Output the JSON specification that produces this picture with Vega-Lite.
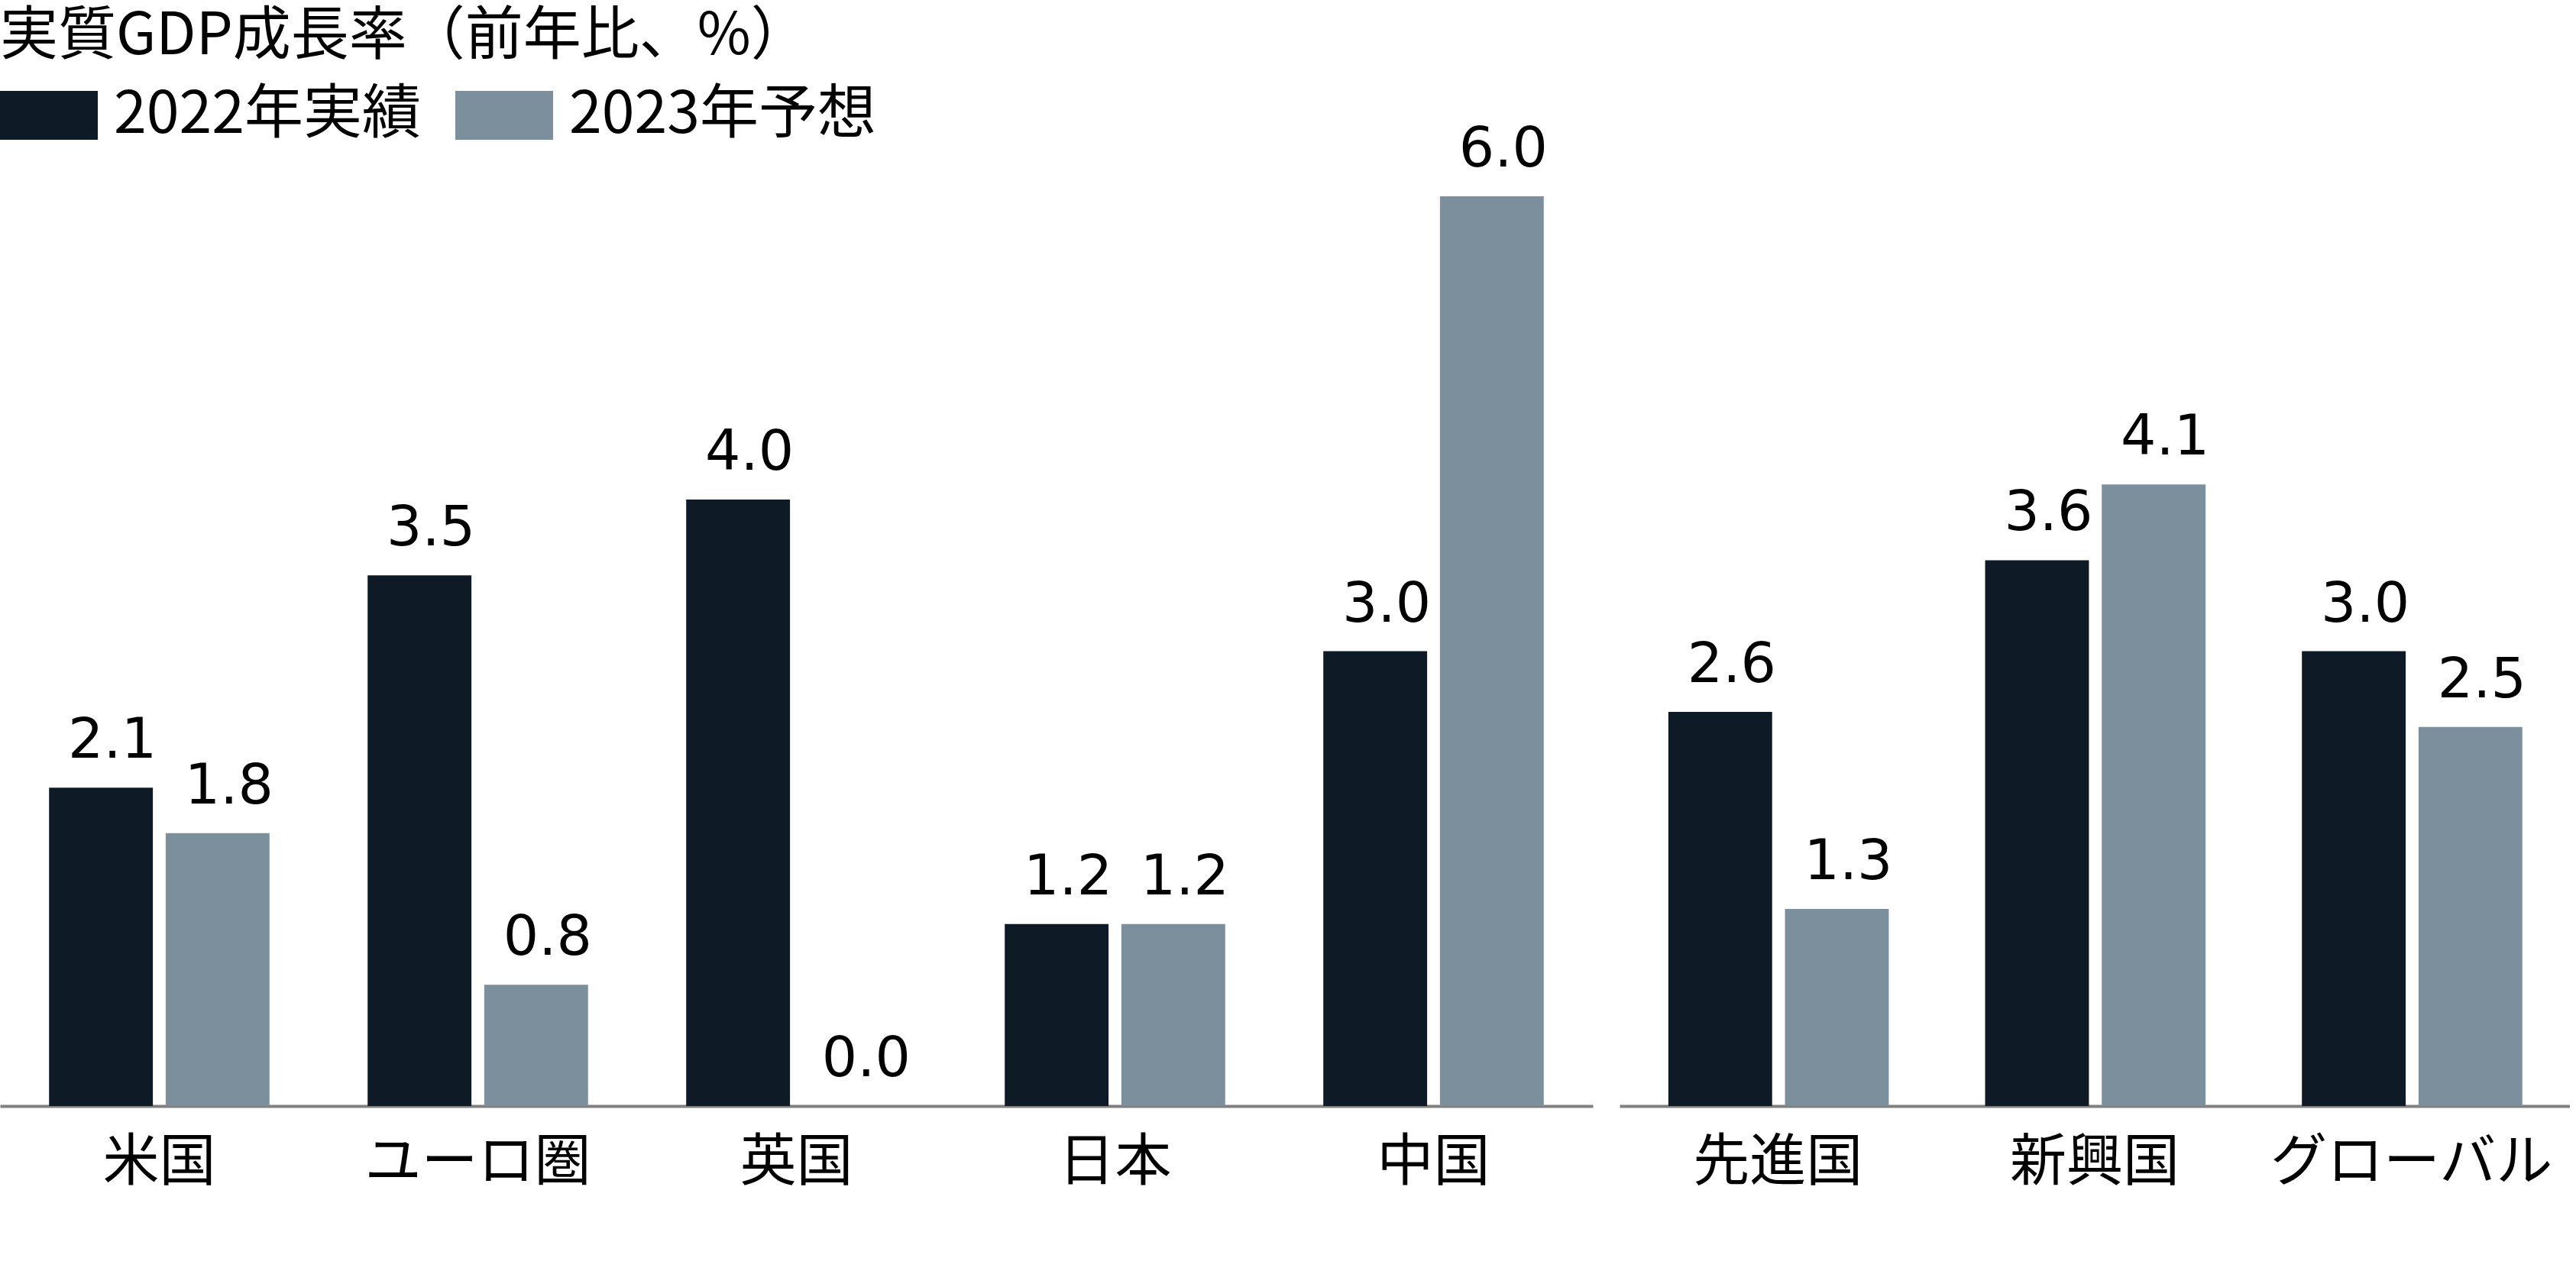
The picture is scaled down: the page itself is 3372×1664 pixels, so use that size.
{
  "$schema": "https://vega.github.io/schema/vega-lite/v6.json",
  "background": "white",
  "padding": {"left": 0, "top": 10, "right": 0, "bottom": 40},
  "title": {
    "text": "実質GDP成長率（前年比、%）",
    "anchor": "start",
    "font": "Noto Sans CJK JP",
    "fontSize": 76,
    "fontWeight": "normal",
    "color": "black",
    "offset": 0
  },
  "data": {
    "values": [
      {"panel": "a", "region": "米国", "year": "2022年実績", "value": 2.1},
      {"panel": "a", "region": "米国", "year": "2023年予想", "value": 1.8},
      {"panel": "a", "region": "ユーロ圏", "year": "2022年実績", "value": 3.5},
      {"panel": "a", "region": "ユーロ圏", "year": "2023年予想", "value": 0.8},
      {"panel": "a", "region": "英国", "year": "2022年実績", "value": 4.0},
      {"panel": "a", "region": "英国", "year": "2023年予想", "value": 0.0},
      {"panel": "a", "region": "日本", "year": "2022年実績", "value": 1.2},
      {"panel": "a", "region": "日本", "year": "2023年予想", "value": 1.2},
      {"panel": "a", "region": "中国", "year": "2022年実績", "value": 3.0},
      {"panel": "a", "region": "中国", "year": "2023年予想", "value": 6.0},
      {"panel": "b", "region": "先進国", "year": "2022年実績", "value": 2.6},
      {"panel": "b", "region": "先進国", "year": "2023年予想", "value": 1.3},
      {"panel": "b", "region": "新興国", "year": "2022年実績", "value": 3.6},
      {"panel": "b", "region": "新興国", "year": "2023年予想", "value": 4.1},
      {"panel": "b", "region": "グローバル", "year": "2022年実績", "value": 3.0},
      {"panel": "b", "region": "グローバル", "year": "2023年予想", "value": 2.5}
    ]
  },
  "spacing": 35,
  "hconcat": [
    {
      "width": 2085,
      "height": 1191,
      "transform": [{"filter": "datum.panel == 'a'"}],
      "encoding": {
        "x": {"field": "region", "type": "nominal", "sort": null, "title": null,
              "scale": {"paddingInner": 0.308, "paddingOuter": 0.154}},
        "xOffset": {"field": "year", "type": "nominal", "scale": {"paddingInner": 0.11}},
        "y": {"field": "value", "type": "quantitative", "axis": null, "scale": {"domain": [0, 6]}}
      },
      "layer": [
        {
          "mark": "bar",
          "encoding": {
            "color": {"field": "year", "type": "nominal", "title": null,
                      "scale": {"domain": ["2022年実績", "2023年予想"], "range": ["#0f1a27", "#7b8f9c"]}}
          }
        },
        {
          "mark": {"type": "text", "baseline": "alphabetic", "dy": -39, "dx": 15,
                   "font": "DejaVu Sans", "fontSize": 73, "color": "black"},
          "encoding": {"text": {"field": "value", "type": "quantitative", "format": ".1f"}}
        }
      ]
    },
    {
      "width": 1244,
      "height": 1191,
      "transform": [{"filter": "datum.panel == 'b'"}],
      "encoding": {
        "x": {"field": "region", "type": "nominal", "sort": null, "title": null,
              "scale": {"paddingInner": 0.308, "paddingOuter": 0.154}},
        "xOffset": {"field": "year", "type": "nominal", "scale": {"paddingInner": 0.11}},
        "y": {"field": "value", "type": "quantitative", "axis": null, "scale": {"domain": [0, 6]}}
      },
      "layer": [
        {
          "mark": "bar",
          "encoding": {
            "color": {"field": "year", "type": "nominal", "title": null,
                      "scale": {"domain": ["2022年実績", "2023年予想"], "range": ["#0f1a27", "#7b8f9c"]}}
          }
        },
        {
          "mark": {"type": "text", "baseline": "alphabetic", "dy": -39, "dx": 15,
                   "font": "DejaVu Sans", "fontSize": 73, "color": "black"},
          "encoding": {"text": {"field": "value", "type": "quantitative", "format": ".1f"}}
        }
      ]
    }
  ],
  "config": {
    "view": {"stroke": null},
    "axisX": {
      "labelAngle": 0,
      "labelFont": "Noto Sans CJK JP",
      "labelFontSize": 74,
      "labelColor": "black",
      "labelPadding": 38,
      "labelLimit": 0,
      "ticks": false,
      "tickSize": 0,
      "domainColor": "#808080",
      "domainWidth": 4,
      "grid": false
    },
    "legend": {
      "orient": "top",
      "direction": "horizontal",
      "symbolType": "M-1,-0.5H1V0.5H-1Z",
      "symbolSize": 16384,
      "symbolStrokeWidth": 0,
      "labelFont": "Noto Sans CJK JP",
      "labelFontSize": 77,
      "labelColor": "black",
      "labelOffset": 21,
      "labelLimit": 0,
      "columnPadding": 45,
      "padding": 0,
      "offset": -29
    }
  }
}
